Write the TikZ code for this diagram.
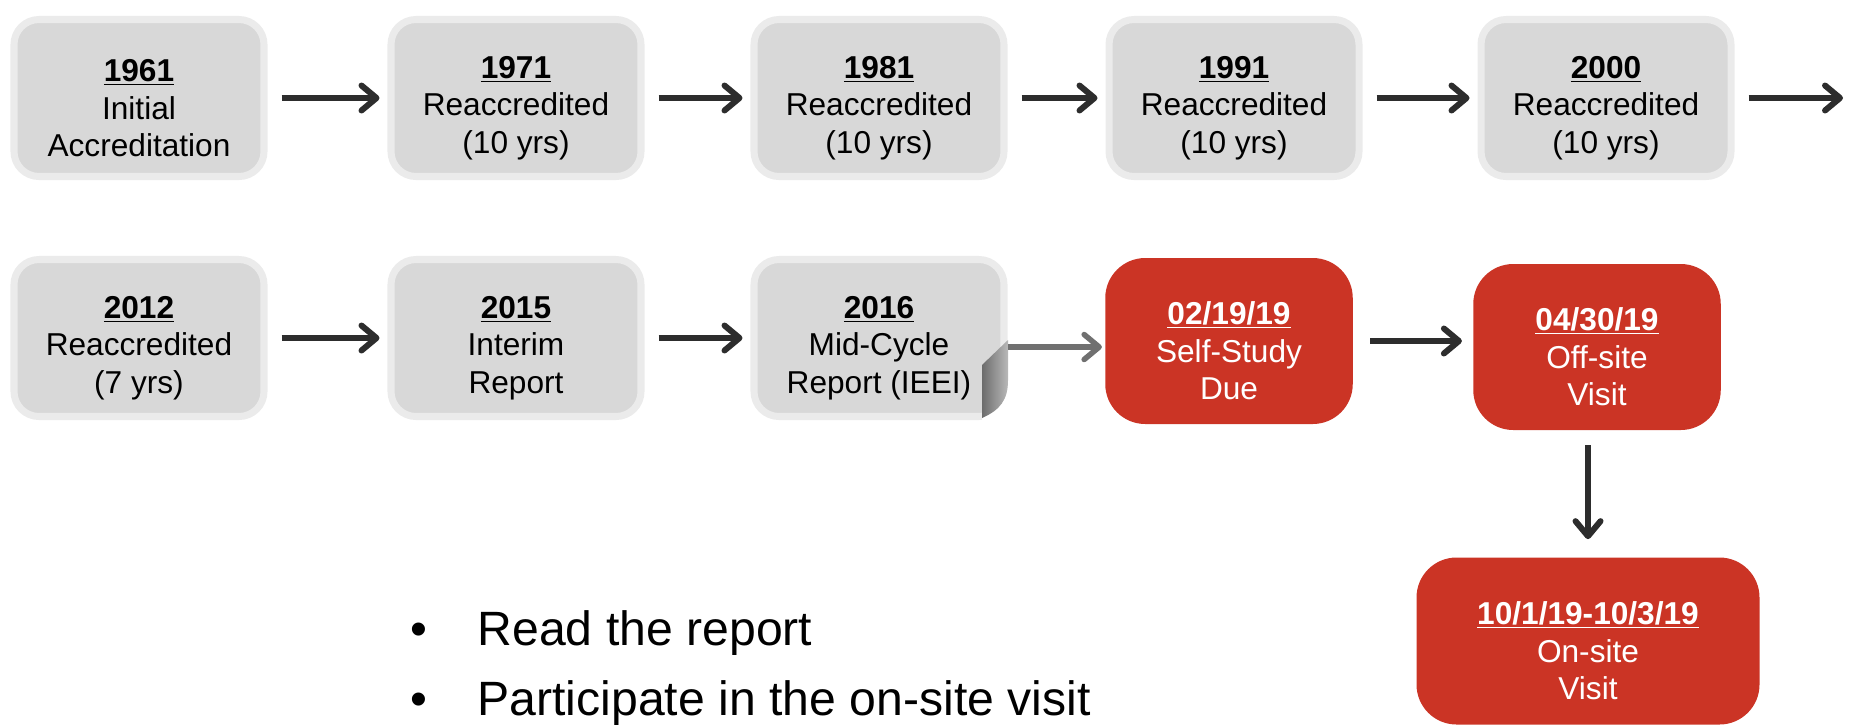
\documentclass[tikz,border=0pt]{standalone}
\usepackage{fontspec}
\setmainfont{Liberation Sans}
\usetikzlibrary{arrows.meta}

\definecolor{boxgray}{RGB}{216,216,216}
\definecolor{abetred}{RGB}{203,52,37}
\definecolor{arrowdark}{RGB}{45,45,45}
\definecolor{arrowgray}{RGB}{112,112,112}

% year heading: strut pushes the block down a little, as in the slide
\newcommand{\yearline}[1]{\rule{0pt}{0.85cm}\underline{\textbf{#1}}}

\begin{document}
\begin{tikzpicture}[
    yearbox/.style={rounded corners=0.5cm, fill=boxgray, draw=boxgray!50, line width=4pt,
      minimum width=5cm, minimum height=3.14cm, align=center,
      font=\fontsize{18}{21.3}\selectfont},
    datebox/.style={rounded corners=0.8cm, fill=abetred, text=white, align=center,
      minimum width=4.95cm, minimum height=3.32cm, font=\fontsize{18}{21.3}\selectfont},
    arr/.style={draw=arrowdark, line width=0.12cm, -{Straight Barb[length=0.3cm, width=0.5cm, round]},
      shorten <=0.28cm, shorten >=0.16cm},
    grayarr/.style={arr, draw=arrowgray, line width=0.11cm}]
  \useasboundingbox (0,0) rectangle (36.98,-14.54);

  % first row
  \node[yearbox] (y1961) at (2.78,-1.96)  {\yearline{1961}\\Initial\\Accreditation};
  \node[yearbox] (y1971) at (10.32,-1.96) {\yearline{1971}\\Reaccredited\\(10 yrs)};
  \node[yearbox] (y1981) at (17.58,-1.96) {\yearline{1981}\\Reaccredited\\(10 yrs)};
  \node[yearbox] (y1991) at (24.68,-1.96) {\yearline{1991}\\Reaccredited\\(10 yrs)};
  \node[yearbox] (y2000) at (32.12,-1.96) {\yearline{2000}\\Reaccredited\\(10 yrs)};
  \coordinate (next) at (36.86,-1.96);

  \draw[arr] (y1961) -- (y1971);
  \draw[arr] (y1971) -- (y1981);
  \draw[arr] (y1981) -- (y1991);
  \draw[arr] (y1991) -- (y2000);
  \draw[arr, shorten >=0pt] (y2000) -- (next);

  % second row
  \node[yearbox] (y2012) at (2.78,-6.76)  {\yearline{2012}\\Reaccredited\\(7 yrs)};
  \node[yearbox] (y2015) at (10.32,-6.76) {\yearline{2015}\\Interim\\Report};
  \node[yearbox] (y2016) at (17.58,-6.76) {\yearline{2016}\\Mid-Cycle\\Report (IEEI)};

  % page curl on the 2016 box
  \fill[white] (19.64,-8.36) .. controls (20.0,-8.2) and (20.16,-8.0) .. (20.16,-7.6)
    -- (20.4,-7.6) -- (20.4,-8.6) -- (19.64,-8.6) -- cycle;
  \shade[left color=gray!85!black, right color=gray!55] (20.16,-6.80) -- (19.64,-7.30) -- (19.64,-8.36)
    .. controls (20.0,-8.2) and (20.16,-8.0) .. (20.16,-7.6) -- cycle;
  \coordinate (curl) at (20.16,-6.94);

  \node[datebox] (due) at (24.58,-6.82) {\yearline{02/19/19}\\Self-Study\\Due};
  \node[datebox] (offsite) at (31.94,-6.94) {\yearline{04/30/19}\\Off-site\\Visit};
  \node[datebox, minimum width=6.86cm, minimum height=3.34cm] (onsite) at (31.76,-12.82)
    {\yearline{10/1/19-10/3/19}\\On-site\\Visit};

  \draw[arr] (y2012) -- (y2015);
  \draw[arr] (y2015) -- (y2016);
  \draw[grayarr, shorten <=0pt, shorten >=0.06cm] (curl) -- (curl -| due.west);
  \draw[arr, shorten <=0.34cm, shorten >=0.22cm] (due) -- (due -| offsite.west);
  \draw[arr, shorten <=0.3cm, shorten >=0.36cm] (offsite.south -| onsite.north) -- (onsite.north);

  % bullets
  \node[anchor=base west, inner sep=0pt, font=\fontsize{27.4}{32}\selectfont] (read) at (8.2,-12.9)
    {\textbullet\hspace{1.01cm}Read the report};
  \node[anchor=base west, inner sep=0pt, font=\fontsize{27.4}{32}\selectfont] (visit) at (8.2,-14.3)
    {\textbullet\hspace{1.01cm}Participate in the on-site visit};
\end{tikzpicture}
\end{document}
